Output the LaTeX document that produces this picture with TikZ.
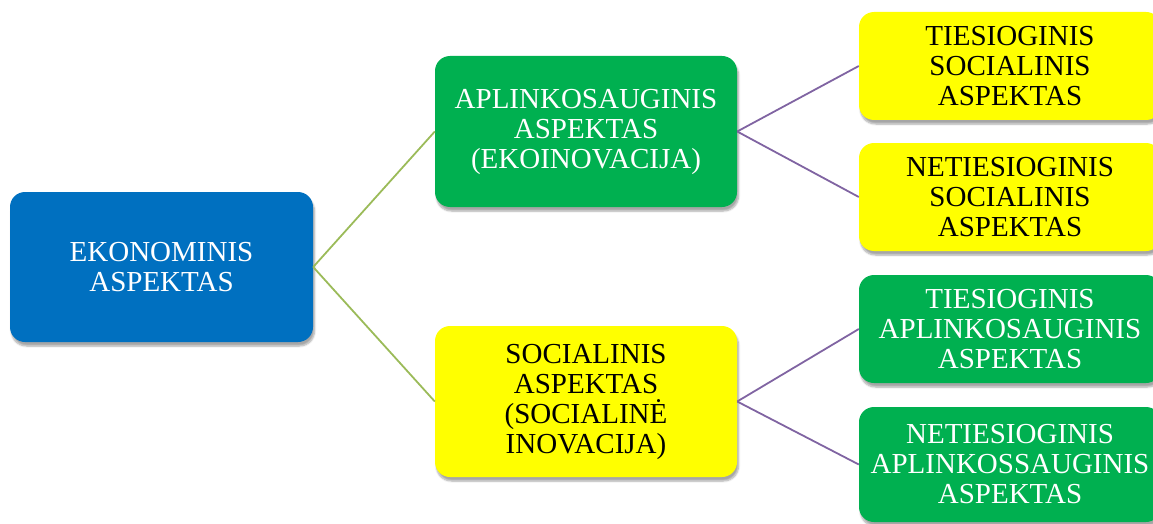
\documentclass[tikz,border=0pt]{standalone}
\usepackage{fontspec}
\setmainfont{Liberation Serif}
\usetikzlibrary{shadows.blur}
\definecolor{cblue}{HTML}{0070C0}
\definecolor{cgreen}{HTML}{00B050}
\definecolor{cyellow}{HTML}{FFFF00}
\definecolor{lgreen}{HTML}{9BBB59}
\definecolor{lpurple}{HTML}{8064A2}
\begin{document}
\begin{tikzpicture}[x=1pt,y=-1pt,
  box/.style={rectangle, rounded corners=15pt, inner sep=0pt, align=center,
    font=\fontsize{29}{30}\selectfont,
    blur shadow={shadow xshift=1.5pt, shadow yshift=-4pt, shadow blur steps=6, shadow opacity=35}},
  bluebox/.style={box, fill=cblue, text=white, minimum width=303pt, minimum height=150pt},
  midbox/.style={box, minimum width=302pt, minimum height=151pt},
  rbox/.style={box, minimum width=302pt, minimum height=108pt},
  gbox/.style={fill=cgreen, text=white},
  ybox/.style={fill=cyellow, text=black},
  link1/.style={draw=lgreen, line width=1.8pt},
  link2/.style={draw=lpurple, line width=1.8pt}
]
\useasboundingbox (0,0) rectangle (1153,524);
\node[bluebox] (eko) at (161.5,267) {EKONOMINIS\\ASPEKTAS};
\node[midbox,gbox] (apl) at (586,131.5) {APLINKOSAUGINIS\\ASPEKTAS\\(EKOINOVACIJA)};
\node[midbox,ybox] (soc) at (586,401.5) {SOCIALINIS\\ASPEKTAS\\(SOCIALINĖ\\INOVACIJA)};
\node[rbox,ybox] (ts) at (1010,66) {TIESIOGINIS\\SOCIALINIS\\ASPEKTAS};
\node[rbox,ybox] (ns) at (1010,197) {NETIESIOGINIS\\SOCIALINIS\\ASPEKTAS};
\node[rbox,gbox] (ta) at (1010,329) {TIESIOGINIS\\APLINKOSAUGINIS\\ASPEKTAS};
\node[rbox,gbox,minimum height=115pt] (na) at (1010,464.5) {NETIESIOGINIS\\APLINKOSSAUGINIS\\ASPEKTAS};
\draw[link1] (eko.east) -- (apl.west);
\draw[link1] (eko.east) -- (soc.west);
\draw[link2] (apl.east) -- (ts.west);
\draw[link2] (apl.east) -- (ns.west);
\draw[link2] (soc.east) -- (ta.west);
\draw[link2] (soc.east) -- (na.west);
\end{tikzpicture}
\end{document}
